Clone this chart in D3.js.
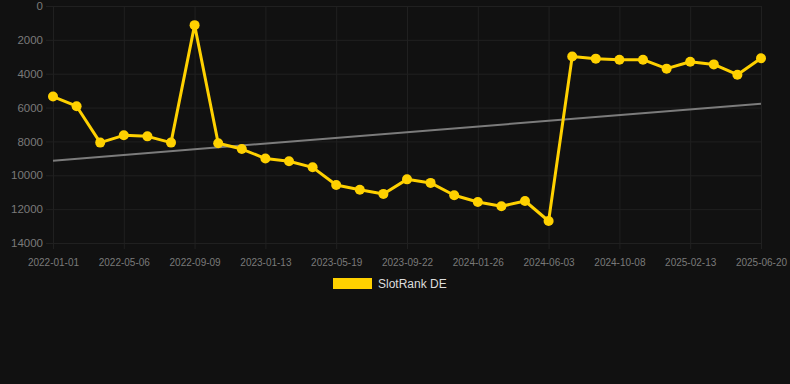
<!DOCTYPE html>
<html>
<head>
<meta charset="utf-8">
<script src="https://cdn.jsdelivr.net/npm/d3@7"></script>
<style>
  html, body { margin: 0; padding: 0; background: #111111; }
  svg { display: block; }
  .tick text { fill: #7a7a7a; font-family: "Liberation Sans", Arial, sans-serif; }
  .grid line { stroke: #202020; stroke-width: 1; }
  .grid path { display: none; }
</style>
</head>
<body>
<div id="chart"></div>
<script>
// Rank of the slot over time (lower is better, so the axis is flipped)
const rankValues = [
  5350, 5920, 8070, 7640, 7700, 8070, 1130, 8110, 8450, 9010,
  9170, 9530, 10570, 10850, 11100, 10240, 10450, 11180, 11580, 11830,
  11520, 12700, 2980, 3110, 3170, 3170, 3700, 3290, 3450, 4060,
  3090
]
const tickLabels = [
  "2022-01-01", "2022-05-06", "2022-09-09", "2023-01-13", "2023-05-19",
  "2023-09-22", "2024-01-26", "2024-06-03", "2024-10-08", "2025-02-13",
  "2025-06-20"
]
const tickEvery = 3
const trendValues = [9140, 5770]
const yTicks = [0, 2000, 4000, 6000, 8000, 10000, 12000, 14000]
const seriesName = "SlotRank DE"

const WIDTH = 790
const HEIGHT = 384
const MARGIN = { top: 6, bot: 141, left: 53, right: 29 }
const LINECOLOR = "#ffd100"

const svg = d3.select("#chart")
  .append("svg")
  .attr("width", WIDTH)
  .attr("height", HEIGHT)

const xScale = d3.scalePoint()
  .domain(d3.range(rankValues.length))
  .range([MARGIN.left, WIDTH - MARGIN.right])

const yScale = d3.scaleLinear()
  .domain([0, 14000])
  .range([MARGIN.top, HEIGHT - MARGIN.bot])

const tickIdx = tickLabels.map((t, i) => i * tickEvery)

// Grid
svg.append("g")
  .attr("class", "grid")
  .attr("transform", `translate(0, ${HEIGHT - MARGIN.bot})`)
  .call(d3.axisBottom(xScale)
    .tickValues(tickIdx)
    .tickFormat("")
    .tickSizeOuter(0))
  .selectAll("line")
  .attr("y2", -(HEIGHT - MARGIN.bot - MARGIN.top))
  .attr("y1", 6)

svg.append("g")
  .attr("class", "grid")
  .attr("transform", `translate(${MARGIN.left}, 0)`)
  .call(d3.axisLeft(yScale)
    .tickValues(yTicks)
    .tickFormat("")
    .tickSizeInner(-(WIDTH - MARGIN.left - MARGIN.right))
    .tickSizeOuter(0))
  .selectAll("line")
  .attr("x1", -7)

// Axes labels
const xAxis = svg.append("g")
  .attr("transform", `translate(0, ${HEIGHT - MARGIN.bot})`)
  .call(d3.axisBottom(xScale)
    .tickValues(tickIdx)
    .tickFormat((d, i) => tickLabels[i])
    .tickSize(0)
    .tickPadding(16))
xAxis.select(".domain").remove()
xAxis.selectAll("text").attr("font-size", 10)

const yAxis = svg.append("g")
  .attr("transform", `translate(${MARGIN.left}, 0)`)
  .call(d3.axisLeft(yScale)
    .tickValues(yTicks)
    .tickFormat(d3.format("d"))
    .tickSize(0)
    .tickPadding(10))
yAxis.select(".domain").remove()
yAxis.selectAll("text").attr("font-size", 11.5)

// Trend line
const trendIdx = [0, rankValues.length - 1]
svg.append("line")
  .attr("x1", xScale(trendIdx[0]))
  .attr("y1", yScale(trendValues[0]))
  .attr("x2", xScale(trendIdx[1]))
  .attr("y2", yScale(trendValues[1]))
  .attr("stroke", "#7c7c7c")
  .attr("stroke-width", 2)

// Series
const line = d3.line()
  .x((d, i) => xScale(i))
  .y(d => yScale(d))

svg.append("path")
  .datum(rankValues)
  .attr("d", line)
  .attr("fill", "none")
  .attr("stroke", LINECOLOR)
  .attr("stroke-width", 3)
  .attr("stroke-linejoin", "round")

svg.selectAll("circle.marker")
  .data(rankValues)
  .join("circle")
  .attr("class", "marker")
  .attr("cx", (d, i) => xScale(i))
  .attr("cy", d => yScale(d))
  .attr("r", 5)
  .attr("fill", LINECOLOR)

// Legend
svg.append("rect")
  .attr("x", 333)
  .attr("y", 278)
  .attr("width", 39)
  .attr("height", 11)
  .attr("fill", LINECOLOR)

svg.append("text")
  .text(seriesName)
  .attr("x", 378)
  .attr("y", 288)
  .attr("fill", "#dddddd")
  .attr("font-size", 12)
  .attr("font-family", "\"Liberation Sans\", Arial, sans-serif")
</script>
</body>
</html>
